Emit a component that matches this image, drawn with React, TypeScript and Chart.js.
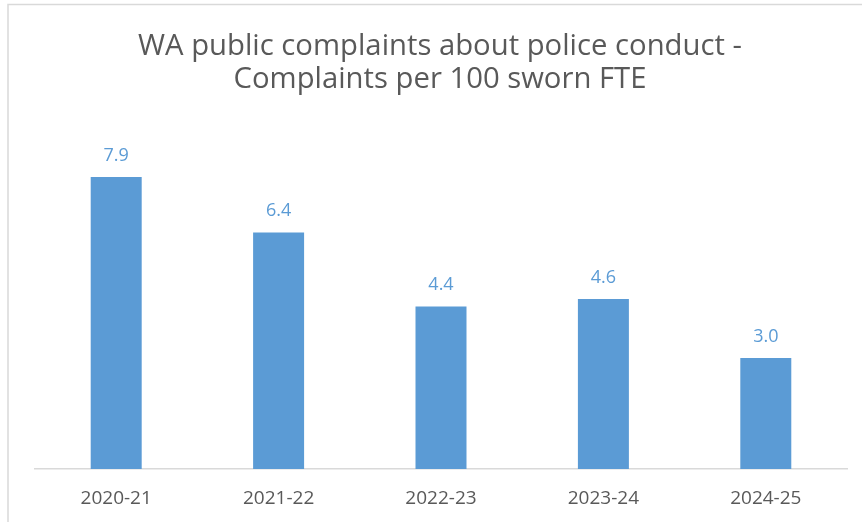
import React, { useEffect, useRef } from "react";
import { Chart, registerables } from "chart.js";

Chart.register(...registerables);

const categories = ["2020-21", "2021-22", "2022-23", "2023-24", "2024-25"];
const values = [7.9, 6.4, 4.4, 4.6, 3.0];
const valueLabels = ["7.9", "6.4", "4.4", "4.6", "3.0"];
const titleLines = ["WA public complaints about police conduct -", "Complaints per 100 sworn FTE"];

const FONT = "'Open Sans', 'Noto Sans', sans-serif";
const BLUE = "#5B9BD5";
const GREY_TEXT = "#595959";

function fitTitleSize(): number {
  const c = document.createElement("canvas");
  const ctx = c.getContext("2d")!;
  ctx.font = `100px ${FONT}`;
  const w = ctx.measureText(titleLines[0]).width;
  const s = (604 / w) * 100;
  return Math.max(18, Math.min(30, s));
}

export default function App() {
  const ref = useRef<HTMLCanvasElement | null>(null);
  useEffect(() => {
    if (!ref.current) return;
    const titleSize = fitTitleSize();
    const frame = {
      id: "frame",
      beforeDraw(chart: any) {
        const ctx = chart.ctx;
        ctx.save();
        ctx.fillStyle = "#ffffff";
        ctx.fillRect(0, 0, chart.width, chart.height);
        ctx.strokeStyle = "#D9D9D9";
        ctx.lineWidth = 1.5;
        ctx.strokeRect(8, 4.5, 1000, 1000);
        ctx.restore();
      },
      afterDraw(chart: any) {
        const ctx = chart.ctx;
        ctx.save();
        ctx.fillStyle = GREY_TEXT;
        ctx.font = `${titleSize}px ${FONT}`;
        ctx.textAlign = "center";
        ctx.textBaseline = "alphabetic";
        ctx.fillText(titleLines[0], 440, 55);
        ctx.fillText(titleLines[1], 440, 88);
        ctx.restore();
      },
    };
    const dataLabels = {
      id: "dataLabels",
      afterDatasetsDraw(chart: any) {
        const ctx = chart.ctx;
        const meta = chart.getDatasetMeta(0);
        ctx.save();
        ctx.fillStyle = BLUE;
        ctx.font = `18px ${FONT}`;
        ctx.textAlign = "center";
        ctx.textBaseline = "alphabetic";
        meta.data.forEach((bar: any, i: number) => {
          ctx.fillText(valueLabels[i], bar.x, bar.y - 16);
        });
        ctx.restore();
      },
    };
    const chart = new Chart(ref.current, {
      type: "bar",
      data: {
        labels: categories,
        datasets: [
          {
            data: values,
            backgroundColor: BLUE,
            borderWidth: 0,
            categoryPercentage: 1,
            barPercentage: 0.314,
          },
        ],
      },
      options: {
        animation: false,
        responsive: false,
        maintainAspectRatio: false,
        devicePixelRatio: 1,
        layout: { padding: { left: 35, right: 15, top: 99.4, bottom: 0 } },
        plugins: {
          legend: { display: false },
          title: { display: false },
          tooltip: { enabled: false },
        },
        scales: {
          x: {
            grid: { display: false, drawTicks: false },
            border: { display: true, color: "#D9D9D9", width: 1.5 },
            ticks: {
              color: GREY_TEXT,
              font: { family: FONT, size: 19 },
              padding: 18,
            },
            afterFit(scale: any) {
              scale.height = 53;
            },
          },
          y: {
            display: false,
            min: 0,
            max: 10,
          },
        },
      },
      plugins: [frame, dataLabels],
    });
    return () => chart.destroy();
  }, []);
  return (
    <div style={{ position: "fixed", left: 0, top: 0, width: 862, height: 522, background: "#fff" }}>
      <canvas ref={ref} width={862} height={522} style={{ display: "block" }} />
    </div>
  );
}
